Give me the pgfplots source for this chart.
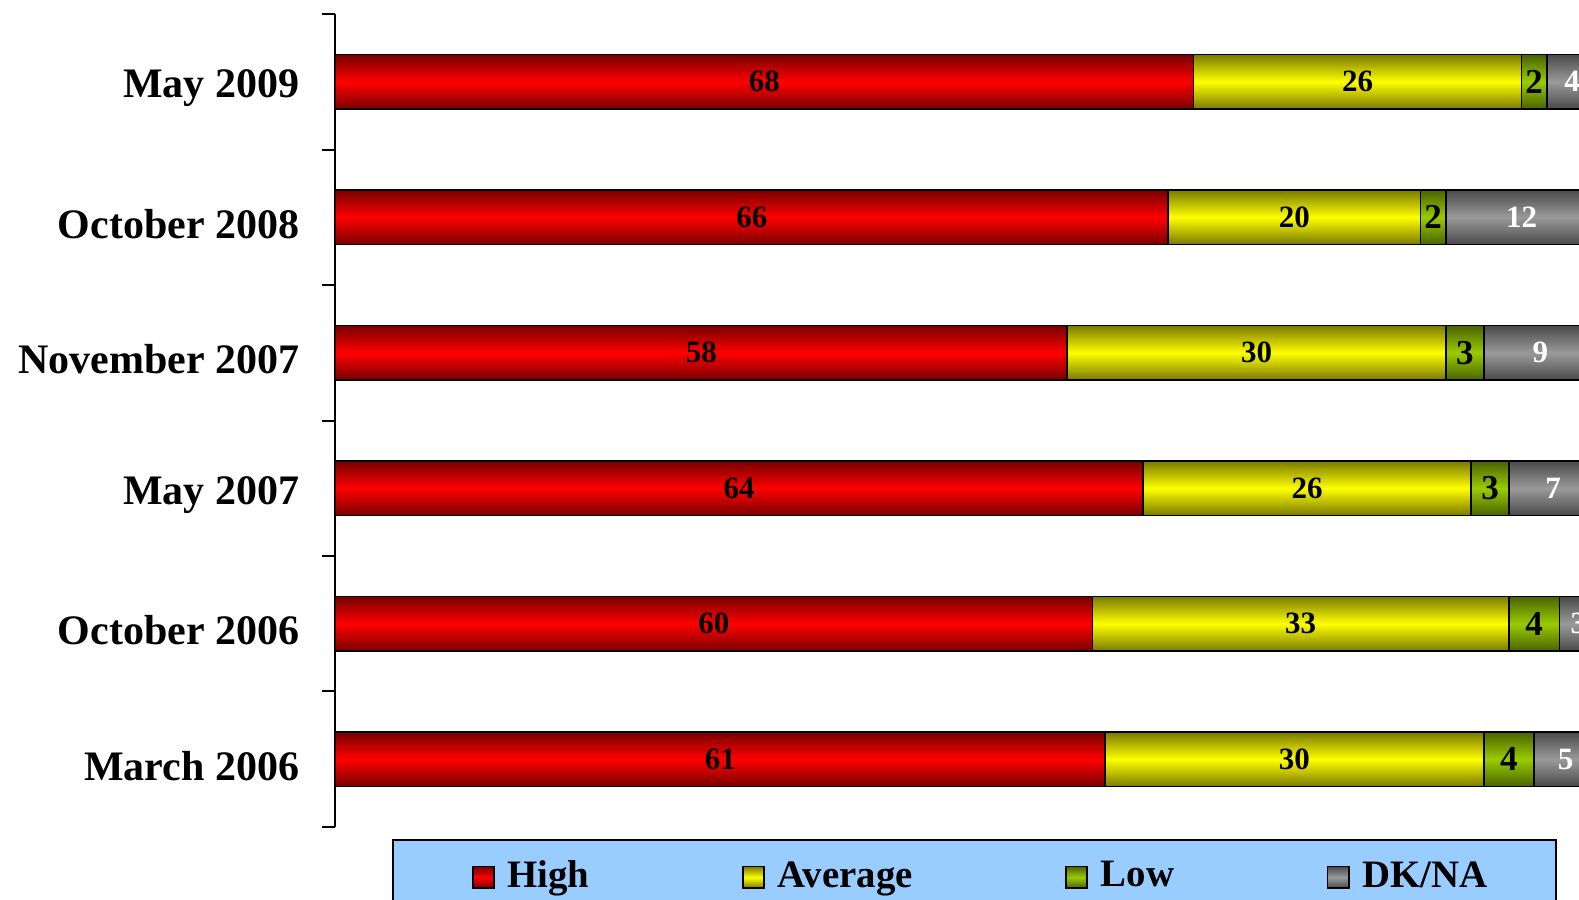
\documentclass[border=0pt]{standalone}
\usepackage{pgfplots}
\usepackage{pgfplotstable}
\pgfplotsset{compat=1.18}
\usepackage{fontspec}
\setmainfont{Liberation Serif}
\definecolor{rdD}{HTML}{780000}
\definecolor{rdM}{HTML}{FF0000}
\definecolor{ylD}{HTML}{7A7A00}
\definecolor{ylM}{HTML}{FFFF00}
\definecolor{grD}{HTML}{4A6300}
\definecolor{grM}{HTML}{99CC00}
\definecolor{gyD}{HTML}{4A4A4A}
\definecolor{gyM}{HTML}{9A9A9A}
\definecolor{lgBlue}{HTML}{99CCFF}
\newcommand\rowshade[3]{\pgfdeclareverticalshading{#1}{100bp}{color(0bp)=(#2); color(25bp)=(#2); color(26.858bp)=(#3); color(28.716bp)=(#2); color(34.257bp)=(#2); color(36.115bp)=(#3); color(37.973bp)=(#2); color(43.513bp)=(#2); color(45.371bp)=(#3); color(47.229bp)=(#2); color(52.770bp)=(#2); color(54.628bp)=(#3); color(56.486bp)=(#2); color(62.027bp)=(#2); color(63.885bp)=(#3); color(65.743bp)=(#2); color(71.284bp)=(#2); color(73.142bp)=(#3); color(75bp)=(#2); color(100bp)=(#2)}}
\rowshade{rowsR}{rdD}{rdM}
\rowshade{rowsY}{ylD}{ylM}
\rowshade{rowsG}{grD}{grM}
\rowshade{rowsK}{gyD}{gyM}
\pgfplotstableread{
y high avg low dk
0 61 30 4 5
1 60 33 4 3
2 64 26 3 7
3 58 30 3 9
4 66 20 2 12
5 68 26 2 4
}\data
\begin{document}
\begin{tikzpicture}
\useasboundingbox (-83.85pt,-18.25pt) rectangle (310.9pt,206.75pt);
\clip (-83.85pt,-18.25pt) rectangle (310.9pt,206.75pt);
\begin{axis}[
  at={(0,0)}, anchor=south west,
  scale only axis, width=315.47pt, height=203.25pt,
  xbar stacked, bar width=13.6pt,
  xmin=0, xmax=100, ymin=-0.5, ymax=5.5,
  axis x line=none, axis y line=left,
  y axis line style={-, line width=0.5pt, black},
  ytick={0,...,5},
  yticklabels={March 2006, October 2006, May 2007, November 2007, October 2008, May 2009},
  major tick length=0pt,
  minor ytick={-0.5,0.5,...,5.5}, minor tick length=3.3pt,
  tick align=outside,
  minor tick style={line width=0.5pt, black},
  yticklabel style={font=\bfseries\fontsize{10.5}{12}\selectfont, text=black, xshift=-5.5pt, yshift=-1.6pt},
  nodes near coords={\pgfmathprintnumber[assume math mode=true]{\rawx}},
  visualization depends on=rawx \as \rawx,
  every node near coord/.append style={anchor=center,
      font=\bfseries\fontsize{7.75}{9}\selectfont},
  legend columns=4,
  legend image code/.code={\path (0pt,0pt) (11pt,0pt); \draw[#1] (4.5pt,-2.7pt) rectangle (9.8pt,2.7pt);},
  legend style={at={(axis description cs:0.5066,-0.0148)}, anchor=north,
    fill=lgBlue, draw=black, line width=0.5pt,
    inner xsep=15.15pt, inner ysep=3.2pt,
    font=\bfseries\fontsize{9.7}{10}\selectfont,
    /tikz/every even column/.append style={column sep=31.65pt}},
]
\addlegendimage{draw=black, line width=0.4pt, top color=rdD, bottom color=rdD, middle color=rdM}
\addlegendentry{High}
\addlegendimage{draw=black, line width=0.4pt, top color=ylD, bottom color=ylD, middle color=ylM}
\addlegendentry{Average}
\addlegendimage{draw=black, line width=0.4pt, top color=grD, bottom color=grD, middle color=grM}
\addlegendentry{Low}
\addlegendimage{draw=black, line width=0.4pt, top color=gyD, bottom color=gyD, middle color=gyM}
\addlegendentry{DK/NA}
\addplot[forget plot, draw=black, line width=0.4pt, shading=rowsR] table[x=high, y=y] {\data};
\addplot[forget plot, draw=black, line width=0.4pt, shading=rowsY] table[x=avg, y=y] {\data};
\addplot[forget plot, draw=black, line width=0.4pt, shading=rowsG,
  every node near coord/.append style={font=\bfseries\fontsize{8.75}{9}\selectfont}] table[x=low, y=y] {\data};
\addplot[forget plot, draw=black, line width=0.4pt, shading=rowsK,
  every node near coord/.append style={text=white}] table[x=dk, y=y] {\data};
\end{axis}
\end{tikzpicture}
\end{document}
